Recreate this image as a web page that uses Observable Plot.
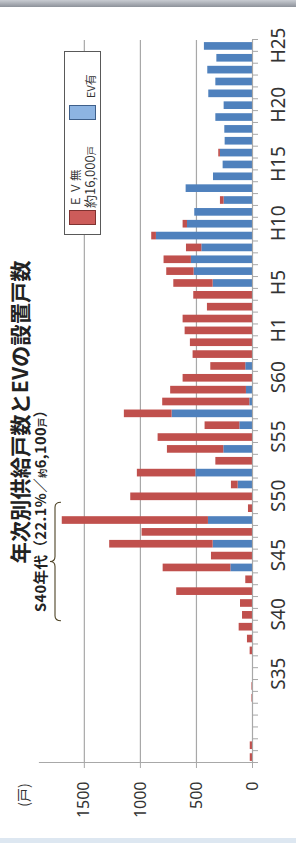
<!DOCTYPE html>
<html>
<head>
<meta charset="utf-8">
<script src="https://cdn.jsdelivr.net/npm/d3@7"></script>
<script src="https://cdn.jsdelivr.net/npm/@observablehq/plot@0.6"></script>
<style>
  html, body { margin: 0; padding: 0; background: #fff; }
  body { width: 296px; height: 843px; overflow: hidden; position: relative; }
  #rot { position: absolute; left: 0; top: 0; width: 843px; height: 296px;
         transform-origin: 0 0; transform: translate(0px, 843px) rotate(-90deg); }
  #rot > svg { position: absolute; left: 0; top: 0; }
  #topbar { position: absolute; left: 0; top: 0; width: 296px; height: 7px;
            background: linear-gradient(#c9ccd2, #8d929a); }
  #bottombar { position: absolute; left: 0; top: 838px; width: 296px; height: 5px; background: #dde7f1; }
</style>
</head>
<body>
<div id="rot"></div>
<div id="topbar"></div>
<div id="bottombar"></div>
<script>
// ---- data ----
const years = [1953,1954,1955,1956,1957,1958,1959,1960,1961,1962,1963,1964,1965,1966,1967,1968,1969,1970,
  1971,1972,1973,1974,1975,1976,1977,1978,1979,1980,1981,1982,1983,1984,1985,1986,1987,1988,1989,1990,
  1991,1992,1993,1994,1995,1996,1997,1998,1999,2000,2001,2002,2003,2004,2005,2006,2007,2008,2009,2010,
  2011,2012,2013];
// EV無 (no elevator), households
const evNone = [20,20,0,0,0,5,5,0,0,21,45,119,89,107,676,60,604,366,
  923,985,1304,36,1086,60,521,327,503,842,310,426,777,676,619,312,530,554,601,619,
  402,524,351,244,244,137,42,39,0,33,0,0,0,15,0,0,0,0,0,0,
  0,0,0];
// EV有 (with elevator), households
const evYes = [0,0,0,0,0,0,0,0,0,0,0,0,0,0,0,0,193,0,
  351,0,393,0,0,128,506,0,256,0,113,717,24,54,0,60,0,0,0,0,
  0,0,351,521,545,452,857,580,515,253,592,348,262,286,244,247,327,253,390,327,
  399,318,429];
const labelYears = [1960,1965,1970,1975,1980,1985,1989,1993,1998,2003,2008,2013];
const labelTexts = ["S35","S40","S45","S50","S55","S60","H1","H5","H10","H15","H20","H25"];
const valueTicks = [0,500,1000,1500];
const gridValues = [500,1000,1500];
const valueMax = 1900;
const seriesNames = ["EV有","EV無"];
const seriesColors = ["#4f81bd","#c0504d"];
const braceYears = [1965, 1975];
const titleText = "年次別供給戸数とEVの設置戸数";
const unitText = "(戸)";

// ---- table ----
const rows = [];
years.forEach((y, i) => rows.push({year: y, series: "EV有", value: evYes[i]}));
years.forEach((y, i) => rows.push({year: y, series: "EV無", value: evNone[i]}));
const boundaries = years.concat([years[years.length - 1] + 1]);

const chart = Plot.plot({
  width: 843, height: 296,
  marginLeft: 80, marginRight: 40, marginTop: 39, marginBottom: 44,
  x: {domain: [years[0], years[years.length - 1] + 1], axis: null},
  y: {domain: [0, valueMax], axis: null},
  color: {domain: seriesNames, range: seriesColors},
  style: {fontFamily: "'Noto Sans', sans-serif", color: "#333", background: "transparent", overflow: "visible"},
  marks: [
    Plot.ruleY(gridValues, {stroke: "#a8a8a8", strokeWidth: 1.2}),
    Plot.rectY(rows, {x1: "year", x2: d => d.year + 1, y: "value", fill: "series", insetLeft: 2.1, insetRight: 2.1}),
    Plot.ruleY([0], {stroke: "#a8a8a8", strokeWidth: 1.2}),
    Plot.frame({anchor: "left", stroke: "#a8a8a8", strokeWidth: 1.2}),
    Plot.axisY({ticks: valueTicks, tickSize: 5, tickPadding: 14, label: null, stroke: "#a8a8a8", fill: "#333", fontSize: 16,
      tickFormat: d => String(d)}),
    Plot.axisX({ticks: boundaries, tickSize: 6, label: null, stroke: "#a8a8a8", fill: "none"}),
    Plot.axisX({ticks: labelYears.map(y => y + 0.5), tickSize: 0, tickPadding: 19, label: null, fill: "#333", fontSize: 19,
      tickFormat: d => labelTexts[labelYears.indexOf(d - 0.5)]})
  ]
});
const rot = document.getElementById("rot");
rot.appendChild(chart);

// ---- annotations overlay ----
const xs = chart.scale("x");
const bx1 = xs.apply(braceYears[0]), bx2 = xs.apply(braceYears[1]), bm = (bx1 + bx2) / 2;
const ov = d3.create("svg").attr("width", 843).attr("height", 296).attr("viewBox", "0 0 843 296")
  .style("position", "absolute").style("left", 0).style("top", 0);
const jp = "'Noto Sans CJK JP', sans-serif";

ov.append("text").attr("x", 431).attr("y", 28).attr("text-anchor", "middle")
  .attr("font-family", jp).attr("font-weight", "bold").attr("font-size", 21).attr("fill", "#222")
  .attr("textLength", 303).attr("lengthAdjust", "spacingAndGlyphs").text(titleText);

const sub = ov.append("text").attr("x", 231).attr("y", 45.5).attr("font-family", jp).attr("font-weight", "bold")
  .attr("font-size", 14.5).attr("fill", "#222").attr("textLength", 209).attr("lengthAdjust", "spacing");
sub.append("tspan").text("S40年代（22.1%／");
sub.append("tspan").attr("font-size", 9).text("約");
sub.append("tspan").text("6,100");
sub.append("tspan").attr("font-size", 9).text("戸");
sub.append("tspan").text("）");

ov.append("path").attr("fill", "none").attr("stroke", "#4d4326").attr("stroke-width", 1.1)
  .attr("d", `M${bx1},61 Q${bx1},55 ${bx1 + 5},55 L${bm - 5},55 Q${bm},55 ${bm},50 Q${bm},55 ${bm + 5},55 L${bx2 - 5},55 Q${bx2},55 ${bx2},61`);

ov.append("text").attr("x", 48).attr("y", 29).attr("text-anchor", "middle").attr("font-family", jp)
  .attr("font-size", 14).attr("fill", "#333").text(unitText);

// legend
const lg = ov.append("g");
lg.append("rect").attr("x", 608.5).attr("y", 64.5).attr("width", 183).attr("height", 36)
  .attr("fill", "#fff").attr("stroke", "#595959");
lg.append("rect").attr("x", 618.5).attr("y", 69.5).attr("width", 14).attr("height", 26)
  .attr("fill", "#cd5c5a").attr("stroke", "#7f3331");
lg.append("text").attr("x", 636).attr("y", 79.5).attr("font-family", jp).attr("font-size", 11.5).attr("fill", "#333")
  .attr("letter-spacing", 1.5).text("ＥＶ無");
const l2 = lg.append("text").attr("x", 635).attr("y", 94.5).attr("font-family", jp).attr("font-size", 13).attr("fill", "#333");
l2.append("tspan").text("約16,000");
l2.append("tspan").attr("font-size", 9).text("戸");
lg.append("rect").attr("x", 723.5).attr("y", 69.5).attr("width", 14).attr("height", 26)
  .attr("fill", "#8db4e2").attr("stroke", "#3e5f8a");
lg.append("text").attr("x", 745).attr("y", 95).attr("font-family", jp).attr("font-size", 11).attr("fill", "#333")
  .text("EV有");

rot.appendChild(ov.node());
</script>
</body>
</html>
